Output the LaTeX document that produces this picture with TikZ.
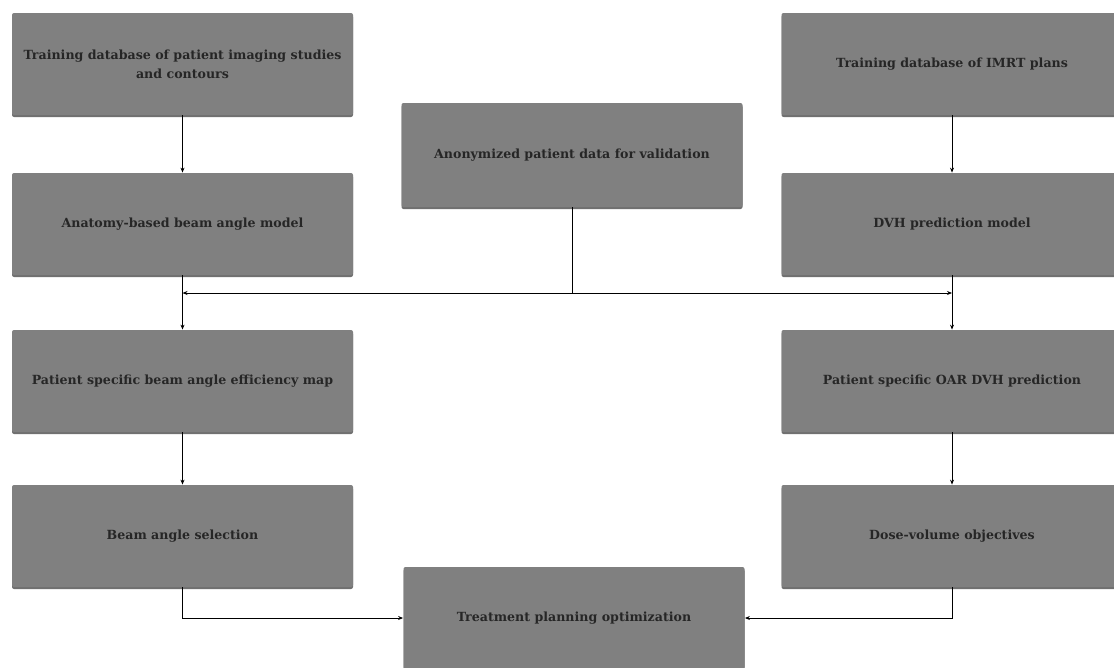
\documentclass[tikz,border=0pt]{standalone}
\usepackage{fontspec}
\setmainfont{DejaVu Serif}
\usetikzlibrary{shadows,arrows.meta}

\begin{document}
\begin{tikzpicture}[x=1pt,y=-1pt,line width=0.8pt,>={Stealth[length=5pt,width=4pt]}]
  \tikzset{box/.style={fill=black!50, rounded corners=2pt, minimum width=341pt, minimum height=102pt,
      align=center, text=black!85, font=\fontsize{12.6}{19}\selectfont\bfseries,
      drop shadow={shadow xshift=0pt, shadow yshift=-2pt, fill=black!70, opacity=0.8}}}
  \useasboundingbox (0,0) rectangle (1114,667);

     % Colonne gauche
  \node[box] (imgdb) at (182.5,64) {Training database of patient imaging studies\\and contours};
  \node[box] (anat) at (182.5,224) {Anatomy-based beam angle model};
  \node[box] (effmap) at (182.5,381) {Patient specific beam angle efficiency map};
  \node[box] (beamsel) at (182.5,536) {Beam angle selection};

     % Colonne droite
  \node[box] (imrtdb) at (952,64) {Training database of IMRT plans};
  \node[box] (dvhmod) at (952,224) {DVH prediction model};
  \node[box] (oardvh) at (952,381) {Patient specific OAR DVH prediction};
  \node[box] (dvobj) at (952,536) {Dose-volume objectives};

     % Centre
  \node[box, minimum height=104pt] (anon) at (572,155) {Anonymized patient data for validation};
  \node[box] (tpo) at (574,618) {Treatment planning optimization};

     % Liaisons
  \coordinate (jn) at (572,293);
  \draw[->] (imgdb) -- (anat);
  \draw[->] (imrtdb) -- (dvhmod);
  \draw (anon) -- (jn);
  \draw[->] (jn) -- (anat.south |- jn);
  \draw[->] (jn) -- (dvhmod.south |- jn);
  \draw[->] (anat) -- (effmap);
  \draw[->] (dvhmod) -- (oardvh);
  \draw[->] (effmap) -- (beamsel);
  \draw[->] (oardvh) -- (dvobj);
  \draw[->] (beamsel.south) |- (tpo.west);
  \draw[->] (dvobj.south) |- (tpo.east);

\end{tikzpicture}
\end{document}
